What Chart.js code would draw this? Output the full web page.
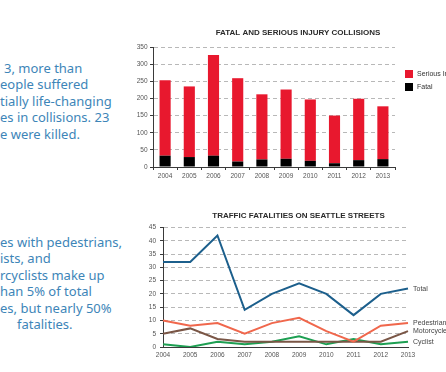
<!DOCTYPE html>
<html>
<head>
<meta charset="utf-8">
<script src="https://cdn.jsdelivr.net/npm/chart.js@4.4.0/dist/chart.umd.min.js"></script>
<style>
    html, body { margin: 0; padding: 0; background: #fff; }
    body { width: 446px; height: 372px; overflow: hidden; position: relative; }
    .blurb {
        position: absolute;
        left: 0;
        font-family: "Noto Sans", sans-serif;
        font-size: 13px;
        line-height: 16.4px;
        color: #3d85b8;
    }
    .blurb div { white-space: nowrap; }
    .box { position: absolute; left: 128px; }
</style>
</head>
<body>

<div class="blurb" style="top:60px">
    <div style="padding-left:4px">3, more than</div>
    <div>eople suffered</div>
    <div>tially life-changing</div>
    <div>es in collisions. 23</div>
    <div>e were killed.</div>
</div>

<div class="blurb" style="top:234px">
    <div>es with pedestrians,</div>
    <div>ists, and</div>
    <div>rcyclists make up</div>
    <div>han 5% of total</div>
    <div>es, but nearly 50%</div>
    <div style="padding-left:17px">fatalities.</div>
</div>

<div class="box" style="top:20px; width:340px; height:159px;"><canvas id="collisionChart"></canvas></div>
<div class="box" style="top:200px; width:341px; height:160px;"><canvas id="fatalityChart"></canvas></div>

<script>
// Years shared by both charts
const years = ['2004', '2005', '2006', '2007', '2008', '2009', '2010', '2011', '2012', '2013'];

// Fatal and serious injury collisions (stacked)
const fatalCollisions = [33, 29, 33, 16, 22, 24, 18, 11, 20, 23];
const seriousInjury = [220, 206, 294, 243, 190, 202, 179, 139, 179, 154];
const collisionTicks = [0, 50, 100, 150, 200, 250, 300, 350];

// Traffic fatalities by road user
const totalFatalities = [32, 32, 42, 14, 20, 24, 20, 12, 20, 22];
const pedestrianFatalities = [10, 8, 9, 5, 9, 11, 6, 2, 8, 9];
const motorcycleFatalities = [5, 7, 3, 2, 2, 2, 2, 2, 2, 6];
const cyclistFatalities = [1, 0, 2, 1, 2, 4, 1, 3, 1, 2];
const fatalityTicks = [0, 5, 10, 15, 20, 25, 30, 35, 40, 45];

const AXIS_DARK = '#3a3a3a';
const GRID_GREY = '#b8b8b8';
const TICK_FONT = { family: '"Liberation Sans", sans-serif', size: 6.5 };
const TITLE_FONT = { family: '"Liberation Sans", sans-serif', size: 8, weight: 'bold' };

/**
 * Draws the little legend to the right of the bar chart (top item = top of stack)
 */
const sideLegend = {
    id: 'sideLegend',
    afterDraw(chart) {
        const { ctx, chartArea } = chart;
        const items = chart.data.datasets.slice().reverse();
        ctx.save();
        ctx.font = '7px "Liberation Sans", sans-serif';
        ctx.textBaseline = 'middle';
        items.forEach((ds, i) => {
            const x = chartArea.right + 10;
            const y = chartArea.top + 23 + i * 13;
            ctx.fillStyle = ds.backgroundColor;
            ctx.fillRect(x, y, 8, 8);
            ctx.fillStyle = '#333';
            ctx.fillText(ds.label, x + 12, y + 4);
        });
        ctx.restore();
    }
};

/**
 * Writes each series name next to the last point of its line
 */
const endLabels = {
    id: 'endLabels',
    afterDatasetsDraw(chart) {
        const { ctx, chartArea } = chart;
        ctx.save();
        ctx.font = '7px "Liberation Sans", sans-serif';
        ctx.textBaseline = 'middle';
        ctx.fillStyle = '#444';
        chart.data.datasets.forEach((ds, i) => {
            const pts = chart.getDatasetMeta(i).data;
            const last = pts[pts.length - 1];
            ctx.fillText(ds.label, chartArea.right + 5, last.y);
        });
        ctx.restore();
    }
};

// empty axis on the right, only there to leave room for legend / labels
function spacerAxis(width) {
    return {
        position: 'right',
        display: true,
        grid: { display: false, drawTicks: false },
        border: { display: false },
        ticks: { display: false },
        afterFit: (scale) => { scale.width = width; }
    };
}

function renderCollisionChart() {
    const ctx = document.getElementById('collisionChart').getContext('2d');
    new Chart(ctx, {
        type: 'bar',
        data: {
            labels: years,
            datasets: [{
                label: 'Fatal',
                data: fatalCollisions,
                backgroundColor: '#000000',
                barPercentage: 0.46,
                categoryPercentage: 1.0
            }, {
                label: 'Serious Injury',
                data: seriousInjury,
                backgroundColor: '#e8182e',
                barPercentage: 0.46,
                categoryPercentage: 1.0
            }]
        },
        options: {
            responsive: true,
            maintainAspectRatio: false,
            animation: false,
            plugins: {
                legend: { display: false },
                tooltip: { enabled: false },
                title: {
                    display: true,
                    text: 'FATAL AND SERIOUS INJURY COLLISIONS',
                    color: '#2a2a2a',
                    font: TITLE_FONT,
                    padding: { top: 8.2, bottom: 9.2 }
                }
            },
            scales: {
                x: {
                    stacked: true,
                    grid: { offset: true, drawOnChartArea: false, tickLength: 3, tickColor: AXIS_DARK },
                    border: { color: AXIS_DARK },
                    ticks: { font: TICK_FONT, color: '#555', padding: 2, maxRotation: 0 },
                    afterFit: (scale) => { scale.height = 12; }
                },
                y: {
                    stacked: true,
                    min: 0,
                    max: 350,
                    afterBuildTicks: (scale) => { scale.ticks = collisionTicks.map(v => ({ value: v })); },
                    grid: { color: GRID_GREY, tickColor: AXIS_DARK, tickLength: 3, tickBorderDash: [] },
                    border: { color: AXIS_DARK, dash: [4, 3] },
                    ticks: { font: TICK_FONT, color: '#555', padding: 2.5 },
                    afterFit: (scale) => { scale.width = 25; }
                },
                pad: spacerAxis(73)
            }
        },
        plugins: [sideLegend]
    });
}

function renderFatalityChart() {
    const ctx = document.getElementById('fatalityChart').getContext('2d');
    const lineStyle = { borderWidth: 2, pointRadius: 0, tension: 0, fill: false };
    new Chart(ctx, {
        type: 'line',
        data: {
            labels: years,
            datasets: [
                { label: 'Total', data: totalFatalities, borderColor: '#1c5f8c', ...lineStyle },
                { label: 'Pedestrian', data: pedestrianFatalities, borderColor: '#f0674c', ...lineStyle },
                { label: 'Motorcycle', data: motorcycleFatalities, borderColor: '#7a5646', ...lineStyle },
                { label: 'Cyclist', data: cyclistFatalities, borderColor: '#1d9f52', ...lineStyle }
            ]
        },
        options: {
            responsive: true,
            maintainAspectRatio: false,
            animation: false,
            plugins: {
                legend: { display: false },
                tooltip: { enabled: false },
                title: {
                    display: true,
                    text: 'TRAFFIC FATALITIES ON SEATTLE STREETS',
                    color: '#2a2a2a',
                    font: TITLE_FONT,
                    padding: { top: 10.7, bottom: 7.2 }
                }
            },
            scales: {
                x: {
                    offset: false,
                    grid: { drawOnChartArea: false, drawTicks: false },
                    border: { color: AXIS_DARK },
                    ticks: { font: TICK_FONT, color: '#555', padding: 4, maxRotation: 0 },
                    afterFit: (scale) => { scale.height = 13; }
                },
                y: {
                    min: 0,
                    max: 45,
                    afterBuildTicks: (scale) => { scale.ticks = fatalityTicks.map(v => ({ value: v })); },
                    grid: { color: GRID_GREY, tickColor: AXIS_DARK, tickLength: 3, tickBorderDash: [] },
                    border: { color: AXIS_DARK, dash: [4, 3] },
                    ticks: { font: TICK_FONT, color: '#555', padding: 4 },
                    afterFit: (scale) => { scale.width = 35; }
                },
                pad: spacerAxis(61)
            }
        },
        plugins: [endLabels]
    });
}

window.addEventListener('DOMContentLoaded', () => {
    renderCollisionChart();
    renderFatalityChart();
});
</script>
</body>
</html>
